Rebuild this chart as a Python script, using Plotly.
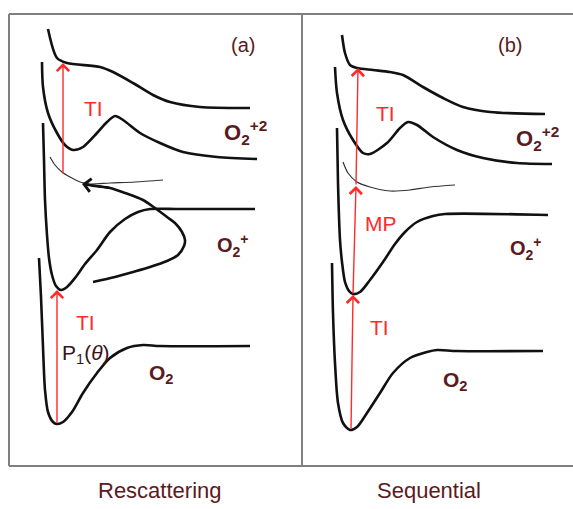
import plotly.graph_objects as go

# ---------------------------------------------------------------
# Schematic potential-energy curves of O2, O2+ and O2+2.
# Horizontal coordinate: internuclear distance (arbitrary units),
# vertical coordinate: energy (arbitrary units).
# ---------------------------------------------------------------

# ---- panel (a): rescattering ----
a_top_r = [48, 57, 67, 100, 113, 133, 153, 170, 200, 250]
a_top_e = [480, 451, 446, 442, 437, 426, 414, 407, 402, 401]

a_dic_r = [42, 43, 48, 57, 65, 73, 83, 97, 107, 115, 123, 140, 160, 183, 217, 257]
a_dic_e = [447, 422, 396, 376, 364, 359, 362, 376, 387, 393, 389, 376, 366, 357, 352, 350]

a_exc_r = [50, 55, 62, 70, 80, 90, 110, 135, 163]
a_exc_e = [352, 344, 337, 332, 327, 325, 326, 327, 329]

a_ion_r = [43, 44, 45, 47, 49, 52, 56, 61, 67, 75, 85, 97, 110, 125, 138, 150, 180, 255]
a_ion_e = [386, 349, 309, 274, 251, 234, 223, 219, 222, 231, 245, 259, 277, 290, 297, 300, 300, 300]

# electron return trajectory (loop ending in an arrow)
a_loop_r = [93, 115, 133, 150, 167, 178, 184, 185, 182, 175, 167, 155, 143, 125, 110, 95, 84]
a_loop_e = [227, 232, 237, 242, 248, 254, 263, 269, 277, 286, 292, 301, 309, 316, 321, 323, 325]

a_gnd_r = [39, 41, 43, 45, 48, 53, 57, 63, 72, 83, 97, 110, 127, 143, 160, 250]
a_gnd_e = [251, 212, 162, 119, 97, 87, 85, 87, 97, 116, 136, 151, 161, 164, 163, 163]

# ---- panel (b): sequential ----
b_top_r = [342, 345, 350, 357, 373, 390, 403, 423, 443, 463, 490, 545]
b_top_e = [474, 456, 444, 441, 439, 437, 434, 422, 411, 402, 397, 395]

b_dic_r = [335, 337, 343, 353, 363, 370, 387, 400, 408, 417, 433, 457, 483, 517, 552]
b_dic_e = [442, 416, 389, 369, 356, 355, 366, 381, 387, 384, 372, 359, 351, 346, 345]

b_exc_r = [343, 348, 357, 370, 390, 410, 430, 455]
b_exc_e = [347, 336, 327, 322, 318, 319, 322, 324]

b_ion_r = [337, 338, 340, 342, 345, 349, 353, 360, 370, 383, 395, 405, 417, 433, 445, 548]
b_ion_e = [381, 326, 269, 247, 227, 218, 215, 217, 229, 247, 265, 277, 287, 293, 295, 294]

b_gnd_r = [332, 333, 335, 338, 343, 350, 357, 367, 380, 393, 410, 427, 437, 457, 543]
b_gnd_e = [246, 196, 146, 106, 86, 79, 82, 96, 116, 136, 151, 157, 159, 158, 158]

# vertical transitions: (r_start, e_start, r_end, e_end)
transitions = [
    (57, 85, 57, 219),     # (a) TI from O2
    (63, 334, 63, 446),    # (a) TI to O2+2
    (351, 79, 353, 214),   # (b) TI from O2
    (353, 214, 356, 323),  # (b) MP
    (356, 323, 358, 441),  # (b) TI to O2+2
]

BLACK = "#111111"
RED = "#ff2a2a"
MAROON = "#5b1a20"
FRAME = "#7f7f7f"
FONT = "Arial, Liberation Sans, sans-serif"

fig = go.Figure()

thick = [
    (a_top_r, a_top_e), (a_dic_r, a_dic_e), (a_ion_r, a_ion_e),
    (a_loop_r, a_loop_e), (a_gnd_r, a_gnd_e),
    (b_top_r, b_top_e), (b_dic_r, b_dic_e), (b_ion_r, b_ion_e),
    (b_gnd_r, b_gnd_e),
]
for r, e in thick:
    fig.add_trace(go.Scatter(x=r, y=e, mode="lines",
                             line=dict(color=BLACK, width=2.6, shape="spline", smoothing=0.8),
                             hoverinfo="skip", showlegend=False))

for r, e in [(a_exc_r, a_exc_e), (b_exc_r, b_exc_e)]:
    fig.add_trace(go.Scatter(x=r, y=e, mode="lines",
                             line=dict(color="#333333", width=1.2, shape="spline", smoothing=0.8),
                             hoverinfo="skip", showlegend=False))

annotations = []
for r0, e0, r1, e1 in transitions:
    annotations.append(dict(x=r1, y=e1, ax=r0, ay=e0, xref="x", yref="y",
                            axref="x", ayref="y", text="", showarrow=True,
                            arrowhead=4, arrowsize=1.7, arrowwidth=1.4,
                            arrowcolor=RED, standoff=0))

# arrow head closing the return trajectory
annotations.append(dict(x=a_loop_r[-1] - 2, y=a_loop_e[-1], ax=a_loop_r[-3], ay=a_loop_e[-3],
                        xref="x", yref="y", axref="x", ayref="y", text="",
                        showarrow=True, arrowhead=4, arrowsize=1.3, arrowwidth=2.0,
                        arrowcolor=BLACK, standoff=0))

labels = [
    # text, r, e, size, colour
    ("(a)", 243, 464, 20, MAROON),
    ("(b)", 510, 464, 20, MAROON),
    ("TI", 93, 401, 21, RED),
    ("TI", 85, 187, 21, RED),
    ("TI", 385, 396, 21, RED),
    ("MP", 381, 286, 21, RED),
    ("TI", 379, 182, 21, RED),
    ("P<sub>1</sub>(<i>θ</i>)", 86, 155, 21, "#3a1518"),
    ("<b>O<sub>2</sub><sup>+2</sup></b>", 245, 377, 22, MAROON),
    ("<b>O<sub>2</sub><sup>+2</sup></b>", 537, 371, 22, MAROON),
    ("<b>O<sub>2</sub><sup>+</sup></b>", 233, 264, 20, MAROON),
    ("<b>O<sub>2</sub><sup>+</sup></b>", 526, 261, 20, MAROON),
    ("<b>O<sub>2</sub></b>", 161, 135, 21, MAROON),
    ("<b>O<sub>2</sub></b>", 455, 128, 21, MAROON),
    ("Rescattering", 160, 19, 22, MAROON),
    ("Sequential", 429, 19, 22, MAROON),
]
for text, r, e, size, color in labels:
    annotations.append(dict(x=r, y=e, xref="x", yref="y", text=text, showarrow=False,
                            xanchor="center", yanchor="middle",
                            font=dict(family=FONT, size=size, color=color)))

# panel frame and divider
frame = [
    (9, 43, 9, 495),
    (9, 495, 573, 495),
    (9, 43, 573, 43),
    (302, 43, 302, 495),
]
shapes = [dict(type="line", x0=x0, y0=y0, x1=x1, y1=y1, xref="x", yref="y",
               line=dict(color=FRAME, width=2)) for x0, y0, x1, y1 in frame]

fig.update_layout(
    width=573, height=509,
    margin=dict(l=0, r=0, t=0, b=0),
    paper_bgcolor="white", plot_bgcolor="white",
    xaxis=dict(range=[0, 573], visible=False, fixedrange=True),
    yaxis=dict(range=[0, 509], visible=False, fixedrange=True),
    annotations=annotations,
    shapes=shapes,
    showlegend=False,
)

fig.write_html("out.html")
